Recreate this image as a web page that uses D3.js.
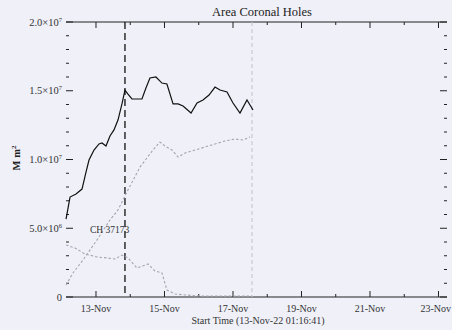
<!DOCTYPE html>
<html>
<head>
<meta charset="utf-8">
<script src="https://cdn.jsdelivr.net/npm/d3@7"></script>
<style>
  html, body { margin: 0; padding: 0; background: #eff0f8; }
  svg { display: block; font-family: "Liberation Serif", "DejaVu Serif", serif; }
</style>
</head>
<body>
<svg id="chart" width="452" height="330"></svg>
<script>
// Coronal hole areas over time (hours relative to 13-Nov-2022 00:00 UT), values in Mm^2
const totalHours = [-21.0, -18.2, -14.0, -9.8, -7.0, -4.9, -1.4, 2.1, 4.2, 7.0, 9.8, 12.6, 15.4, 18.2,
  20.3, 22.4, 25.2, 28.7, 32.2, 35.0, 37.8, 42.0, 46.2, 49.7, 54.0, 57.5, 61.0, 66.6, 70.8, 75.0,
  79.2, 83.4, 86.9, 91.8, 96.0, 100.9, 105.8, 110.0];
const totalArea = [5.67e6, 7.27e6, 7.49e6, 7.85e6, 9.09e6, 9.96e6, 10.69e6, 11.13e6, 11.20e6, 10.98e6,
  11.71e6, 12.15e6, 12.87e6, 14.04e6, 15.05e6, 14.76e6, 14.40e6, 14.40e6, 14.40e6, 15.20e6, 15.93e6,
  16.00e6, 15.56e6, 15.49e6, 14.04e6, 14.04e6, 13.89e6, 13.38e6, 14.11e6, 14.33e6, 14.69e6, 15.27e6,
  15.05e6, 14.91e6, 14.11e6, 13.38e6, 14.33e6, 13.60e6];

const holeAHours = [-21.0, -16.1, -9.1, 0.7, 9.8, 15.4, 21.7, 30.8, 35.7, 39.9, 44.8, 48.3, 53.3, 57.5,
  62.4, 69.4, 76.4, 83.4, 90.4, 97.4, 103.0, 107.9];
const holeAArea = [0.87e6, 1.75e6, 2.69e6, 4.15e6, 5.60e6, 6.33e6, 7.64e6, 9.45e6, 10.11e6, 10.69e6,
  11.27e6, 10.98e6, 10.69e6, 10.18e6, 10.47e6, 10.69e6, 10.91e6, 11.13e6, 11.35e6, 11.49e6, 11.42e6, 11.64e6];

const holeBHours = [-21.0, -14.7, -7.7, 0.7, 7.7, 13.3, 18.2, 22.4, 28.7, 36.4, 41.3, 46.2, 49.7, 55.4,
  62.4, 72.9, 83.4, 93.9, 104.4, 109.3];
const holeBArea = [3.78e6, 3.56e6, 3.13e6, 2.91e6, 2.84e6, 2.76e6, 3.05e6, 2.84e6, 2.11e6, 2.40e6,
  1.89e6, 1.75e6, 0.51e6, 0.22e6, 0.15e6, 0.07e6, 0.07e6, 0.07e6, 0.07e6, 0.07e6];

// Vertical markers: first the selected hole, then end of data
const markerHours = [20.3, 109.3];

const xTickDays = [13, 15, 17, 19, 21, 23];
const yTickValues = [0, 5e6, 1e7, 1.5e7, 2e7];
const yTickLabels = ["0", "5.0\u00d710^6", "1.0\u00d710^7", "1.5\u00d710^7", "2.0\u00d710^7"];

const chartTitle = "Area Coronal Holes";
const xTitle = "Start Time (13-Nov-22 01:16:41)";
const holeLabel = "CH 37173";
const holeLabelAt = { h: -4.2, v: 4.65e6 };

const t0 = Date.UTC(2022, 10, 13, 0, 0, 0);
const toDate = h => new Date(t0 + h * 3600e3);

const svg = d3.select("#chart");
const plotLeft = 66, plotRight = 447, plotTop = 22, plotBottom = 297;

const x = d3.scaleUtc().domain([toDate(-21.02), toDate(245.96)]).range([plotLeft, plotRight]);
const y = d3.scaleLinear().domain([0, 2e7]).range([plotBottom, plotTop]);

const ink = "#222";

// frame: top and bottom lines
svg.append("line").attr("x1", plotLeft).attr("x2", plotRight).attr("y1", plotTop).attr("y2", plotTop)
  .attr("stroke", ink).attr("stroke-width", 1.2);
svg.append("line").attr("x1", plotLeft).attr("x2", plotRight).attr("y1", plotBottom).attr("y2", plotBottom)
  .attr("stroke", ink).attr("stroke-width", 1.2);

// y ticks (inward, both sides), minor every 1e6
const yMinor = d3.range(0, 2e7 + 1, 1e6);
yMinor.forEach(v => {
  const major = v % 5e6 === 0;
  const len = major ? 7 : 3;
  svg.append("line").attr("x1", plotLeft).attr("x2", plotLeft + len).attr("y1", y(v)).attr("y2", y(v))
    .attr("stroke", ink).attr("stroke-width", 1);
  svg.append("line").attr("x1", plotRight).attr("x2", plotRight - len).attr("y1", y(v)).attr("y2", y(v))
    .attr("stroke", ink).attr("stroke-width", 1);
});

// y tick labels with superscript exponents
yTickValues.forEach((v, i) => {
  const parts = yTickLabels[i].split("^");
  const t = svg.append("text").attr("x", 62).attr("y", y(v) + 3.5)
    .attr("text-anchor", "end").attr("font-size", 10.5).attr("fill", "#333");
  t.append("tspan").text(parts[0]);
  if (parts[1]) t.append("tspan").attr("font-size", 6.5).attr("dy", -4).text(parts[1]);
});

// x ticks: major at labelled days, minor daily
const xDays = d3.range(12, 24);
xDays.forEach(d => {
  const dt = new Date(Date.UTC(2022, 10, d));
  const px = x(dt);
  if (px < plotLeft || px > plotRight) return;
  const len = xTickDays.includes(d) ? 6 : 3;
  svg.append("line").attr("x1", px).attr("x2", px).attr("y1", plotBottom).attr("y2", plotBottom - len)
    .attr("stroke", ink).attr("stroke-width", 1);
  svg.append("line").attr("x1", px).attr("x2", px).attr("y1", plotTop).attr("y2", plotTop + len)
    .attr("stroke", ink).attr("stroke-width", 1);
});
const fmt = d3.utcFormat("%d-%b");
xTickDays.forEach(d => {
  const dt = new Date(Date.UTC(2022, 10, d));
  const lbl = svg.append("text").attr("x", x(dt)).attr("y", 312).attr("text-anchor", "middle")
    .attr("font-size", 10).attr("fill", "#333").text(fmt(dt));
  // keep the last label inside the page edge
  const w = lbl.node().getComputedTextLength();
  if (x(dt) + w / 2 > 451) lbl.attr("x", 451 - w / 2);
});

// titles
svg.append("text").attr("x", 262).attr("y", 16).attr("text-anchor", "middle")
  .attr("font-size", 12.5).attr("fill", ink).text(chartTitle);
svg.append("text").attr("x", 258).attr("y", 324).attr("text-anchor", "middle")
  .attr("font-size", 10).attr("fill", "#333").text(xTitle);
const yl = svg.append("text").attr("transform", "translate(20,158) rotate(-90)")
  .attr("text-anchor", "middle").attr("font-size", 10.5).attr("font-weight", "bold").attr("fill", ink);
yl.append("tspan").text("M m");
yl.append("tspan").attr("font-size", 7).attr("dy", -4).text("2");

// vertical markers
svg.append("line").attr("x1", x(toDate(markerHours[0]))).attr("x2", x(toDate(markerHours[0])))
  .attr("y1", plotTop).attr("y2", plotBottom).attr("stroke", "#111").attr("stroke-width", 1.3)
  .attr("stroke-dasharray", "7,4");
svg.append("line").attr("x1", x(toDate(markerHours[1]))).attr("x2", x(toDate(markerHours[1])))
  .attr("y1", plotTop).attr("y2", plotBottom).attr("stroke", "#c4c6d2").attr("stroke-width", 1.1)
  .attr("stroke-dasharray", "4,3");

const line = d3.line().x(d => x(toDate(d[0]))).y(d => y(d[1]));

// individual holes (grey, dashed)
const holeA = d3.zip(holeAHours, holeAArea);
const holeB = d3.zip(holeBHours, holeBArea);
[holeA, holeB].forEach(s => {
  svg.append("path").datum(s).attr("d", line).attr("fill", "none")
    .attr("stroke", "#a4a6b2").attr("stroke-width", 1.1).attr("stroke-dasharray", "2.5,2");
});

// total area
svg.append("path").datum(d3.zip(totalHours, totalArea)).attr("d", line).attr("fill", "none")
  .attr("stroke", "#111").attr("stroke-width", 1.2);

// hole label
svg.append("text").attr("x", x(toDate(holeLabelAt.h))).attr("y", y(holeLabelAt.v))
  .attr("font-size", 9.5).attr("fill", "#333").text(holeLabel);
</script>
</body>
</html>
